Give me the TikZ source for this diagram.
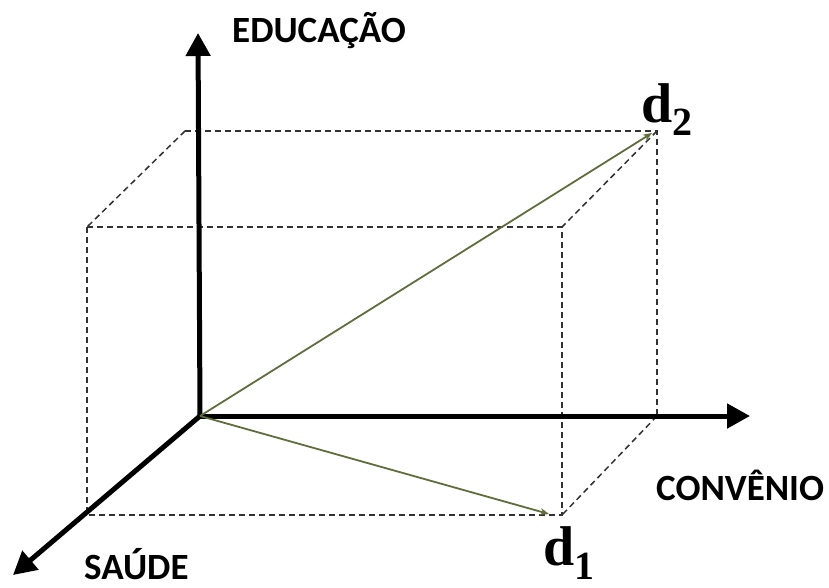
\documentclass[tikz,border=0pt]{standalone}
\usepackage{fontspec}
\newfontfamily\labfont{Carlito}
\newfontfamily\dfont{Liberation Serif}
\usetikzlibrary{arrows.meta}
\definecolor{vecgreen}{RGB}{95,110,60}
\definecolor{dashgray}{RGB}{50,50,50}
\tikzset{
  axis/.style={line width=5pt,-{Triangle[length=23pt,width=24pt]}},
  vec/.style={vecgreen,line width=1.8pt,-{Stealth[length=9pt,width=7pt]}},
  guide/.style={dashgray,line width=1.5pt,dash pattern=on 6pt off 4pt},
  axlabel/.style={font=\labfont\bfseries\fontsize{37}{42}\selectfont,inner sep=0pt,anchor=base west},
  dlabel/.style={font=\dfont\bfseries\fontsize{56}{60}\selectfont,inner sep=0pt,anchor=base west}
}
\begin{document}
\begin{tikzpicture}[x=1pt,y=-1pt]
\fill[white] (0,0) rectangle (829,587);
\useasboundingbox (0,0) rectangle (829,587);
% box corners
\coordinate (O) at (200,416);
\coordinate (BTL) at (185,131);
\coordinate (BTR) at (657,131);
\coordinate (BBR) at (657,416);
\coordinate (FTL) at (87,227);
\coordinate (FTR) at (562,227);
\coordinate (FBR) at (562,515);
\coordinate (FBL) at (87,515);
\coordinate (Dtwo) at (652,133);
\coordinate (Done) at (549,514);
\coordinate (Ztip) at (198,33);
\coordinate (Xtip) at (750,416);
\coordinate (Ytip) at (13,575);
% dashed box
\draw[guide] (BTL) -- (BTR) -- (BBR);
\draw[guide] (FTL) -- (FTR) -- (FBR) -- (FBL) -- cycle;
\draw[guide] (BTL) -- (FTL);
\draw[guide] (BTR) -- (FTR);
\draw[guide] (BBR) -- (FBR);
% axes
\draw[axis] (O) -- (Ztip);
\draw[axis] (O) -- (Xtip);
\draw[axis] (O) -- (Ytip);
% vectors
\draw[vec] (O) -- (Dtwo);
\draw[vec] (O) -- (Done);
% labels
\node[axlabel] (edu) at (232,42) {EDUCAÇÃO};
\node[axlabel] (conv) at (656,500) {CONVÊNIO};
\node[axlabel] (sau) at (84,579) {SAÚDE};
\node[dlabel] (d2) at (641,122) {d\raisebox{-13pt}{\fontsize{40}{44}\selectfont 2}};
\node[dlabel] (d1) at (543,565) {d\raisebox{-14pt}{\fontsize{40}{44}\selectfont 1}};
\end{tikzpicture}
\end{document}
